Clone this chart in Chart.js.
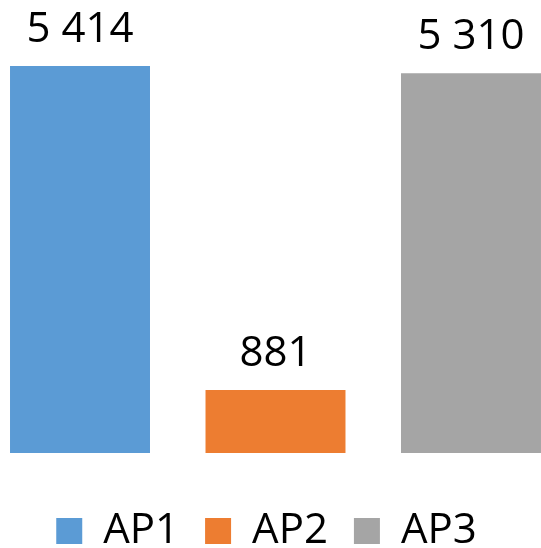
<!DOCTYPE html>
<html>
<head>
<meta charset="utf-8">
<script src="https://cdn.jsdelivr.net/npm/chart.js@4/dist/chart.umd.min.js"></script>
<style>
    html, body { margin: 0; padding: 0; background: #fff; overflow: hidden; }
    #wrap { width: 541px; height: 562px; position: relative; }
</style>
</head>
<body>
<div id="wrap"><canvas id="chart"></canvas></div>
<script>
// Chart data
const seriesNames = ['AP1', 'AP2', 'AP3'];
const seriesValues = [5414, 881, 5310];
const seriesColors = ['#5B9BD5', '#ED7D31', '#A5A5A5'];
const yMax = 6000;

const FONT_FAMILY = '"Open Sans", "Noto Sans", sans-serif';

// Thousands separator as a space: 5414 -> "5 414"
function formatValue(v) {
    return String(v).replace(/\B(?=(\d{3})+(?!\d))/g, ' ');
}

// Draws the value above each bar
const valueLabels = {
    id: 'valueLabels',
    afterDatasetsDraw(chart) {
        const ctx = chart.ctx;
        ctx.save();
        ctx.font = '42px ' + FONT_FAMILY;
        ctx.fillStyle = '#000';
        ctx.textAlign = 'center';
        ctx.textBaseline = 'alphabetic';
        chart.data.datasets.forEach((ds, i) => {
            const meta = chart.getDatasetMeta(i);
            if (meta.hidden) return;
            meta.data.forEach((bar, j) => {
                ctx.fillText(formatValue(ds.data[j]), bar.x, bar.y - 24);
            });
        });
        ctx.restore();
    }
};

const datasets = seriesNames.map((name, i) => ({
    label: name,
    data: [seriesValues[i]],
    backgroundColor: seriesColors[i],
    borderWidth: 0,
    clip: false
}));

new Chart(document.getElementById('chart'), {
    type: 'bar',
    data: {
        labels: [''],
        datasets: datasets
    },
    options: {
        responsive: true,
        maintainAspectRatio: false,
        animation: false,
        devicePixelRatio: 1,
        categoryPercentage: 1.1388,
        barPercentage: 0.716,
        layout: {
            padding: { top: 24, right: 8, left: 0, bottom: 0 }
        },
        plugins: {
            legend: {
                position: 'bottom',
                labels: {
                    boxWidth: 26,
                    boxHeight: 26,
                    padding: 26,
                    color: '#000',
                    font: { family: FONT_FAMILY, size: 42 }
                }
            },
            tooltip: { enabled: false }
        },
        scales: {
            x: {
                grid: { display: false },
                border: { display: false },
                ticks: { display: false },
                afterFit(scale) { scale.height = 31; }
            },
            y: {
                min: 0,
                max: yMax,
                grid: { display: false },
                border: { display: false },
                ticks: { display: false },
                afterFit(scale) { scale.width = 18; }
            }
        }
    },
    plugins: [valueLabels]
});
</script>
</body>
</html>
